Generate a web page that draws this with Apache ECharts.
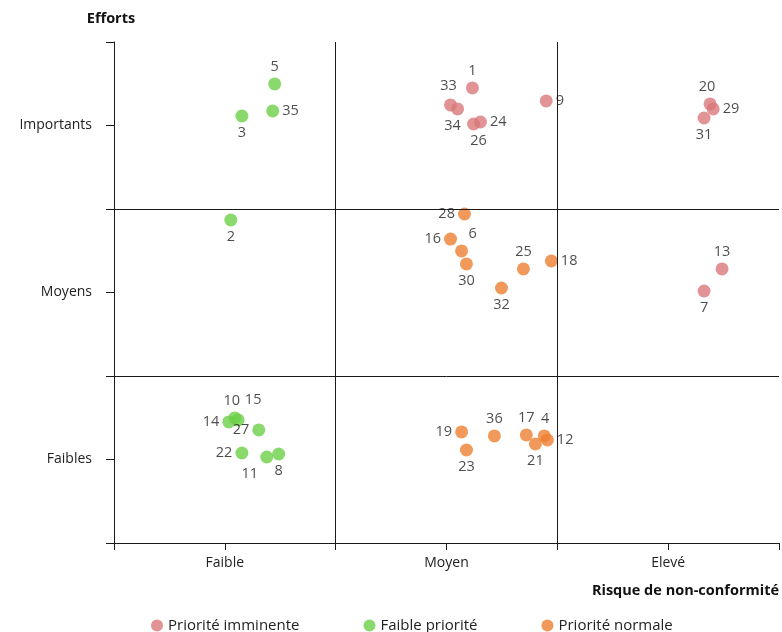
<!DOCTYPE html>
<html><head><meta charset="utf-8">
<script src="https://cdn.jsdelivr.net/npm/echarts@6/dist/echarts.min.js"></script>
<style>html,body{margin:0;padding:0;background:#fff}#c{width:782px;height:632px}</style>
</head><body><div id="c"></div>
<script>
// ---- data ----
const xTickLabels = ['Faible', 'Moyen', 'Elevé'];          // at 0.5, 1.5, 2.5
const yTickLabels = ['Faibles', 'Moyens', 'Importants'];   // at 0.5, 1.5, 2.5
const xAxisTitle = 'Risque de non-conformité';
const yAxisTitle = 'Efforts';
const quadrantBounds = [1, 2];
const seriesNames = ['Priorité imminente', 'Faible priorité', 'Priorité normale'];

const imminenteIds = [1, 33, 34, 26, 24, 9, 20, 29, 31, 13, 7];
const imminenteX   = [1.617, 1.518, 1.550, 1.622, 1.653, 1.950, 2.689, 2.703, 2.662, 2.743, 2.662];
const imminenteY   = [2.725, 2.623, 2.599, 2.509, 2.521, 2.647, 2.629, 2.599, 2.545, 1.641, 1.509];

const faibleIds = [5, 35, 3, 2, 10, 14, 15, 27, 22, 11, 8];
const faibleX   = [0.725, 0.716, 0.577, 0.527, 0.545, 0.518, 0.560, 0.653, 0.577, 0.689, 0.743];
const faibleY   = [2.749, 2.587, 2.557, 1.934, 0.749, 0.725, 0.737, 0.677, 0.539, 0.515, 0.533];

const normaleIds = [28, 16, 6, 30, 25, 18, 32, 19, 23, 36, 17, 4, 21, 12];
const normaleX   = [1.581, 1.518, 1.568, 1.590, 1.847, 1.973, 1.748, 1.568, 1.590, 1.716, 1.860, 1.941, 1.901, 1.955];
const normaleY   = [1.970, 1.820, 1.749, 1.671, 1.641, 1.689, 1.527, 0.665, 0.557, 0.641, 0.647, 0.641, 0.593, 0.617];

// ---- label placement (style) ----
const labelPlace = {
  1:['top'], 33:['top',[-2,-2]], 34:['bottom',[-5,0]], 26:['bottom',[5,0]], 24:['right'], 9:['right'],
  20:['top',[-3,0]], 29:['right'], 31:['bottom'], 13:['top'], 7:['bottom'],
  5:['top'], 35:['right'], 3:['bottom'], 2:['bottom'], 10:['top',[-3,0]], 14:['left'],
  15:['top',[15,-3]], 27:['left'], 22:['left'], 11:['bottom',[-17,0]], 8:['bottom'],
  28:['left'], 16:['left'], 6:['top',[11,0]], 30:['bottom'], 25:['top'], 18:['right'], 32:['bottom'],
  19:['left'], 23:['bottom'], 36:['top'], 17:['top'], 4:['top',[1,0]], 21:['bottom'], 12:['right']
};

const colors = ['#D9787A', '#6DCF48', '#EE8032'];
const FONT = 'Open Sans';

function buildPoints(ids, xs, ys) {
  return ids.map((id, i) => {
    const lp = labelPlace[id] || ['top'];
    const lab = { position: lp[0] };
    if (lp[1]) lab.offset = lp[1];
    return { value: [xs[i], ys[i]], name: String(id), label: lab };
  });
}

function tickFormatter(labels) {
  return function (v) {
    const idx = Math.round(v - 0.5);
    if (Math.abs(v - 0.5 - idx) < 1e-6 && idx >= 0 && idx < labels.length) return labels[idx];
    return '';
  };
}

const lineColor = '#1a1a1a';

const baseSeries = {
  type: 'scatter',
  symbolSize: 13,
  label: {
    show: true,
    formatter: p => p.name,
    color: '#1e1e1e',
    fontFamily: FONT,
    fontSize: 14.5,
    distance: 3
  },
  emphasis: { disabled: true }
};

const chart = echarts.init(document.getElementById('c'), null, { renderer: 'canvas' });
chart.setOption({
  animation: false,
  color: colors,
  textStyle: { fontFamily: FONT },
  grid: { left: 114, top: 42, right: 2, bottom: 89, containLabel: false },
  xAxis: {
    type: 'value', min: 0, max: 3, interval: 0.5,
    name: xAxisTitle, nameLocation: 'end', nameGap: 0,
    nameTextStyle: { align: 'right', verticalAlign: 'top', padding: [40, 0, 0, 0], fontWeight: 'bold', fontSize: 14.5, color: '#111', fontFamily: FONT },
    axisLine: { show: true, lineStyle: { color: lineColor, width: 1 } },
    axisTick: { show: true, length: 7, lineStyle: { color: lineColor } },
    axisLabel: { formatter: tickFormatter(xTickLabels), color: '#222', fontSize: 14, margin: 13, fontFamily: FONT },
    splitLine: { show: false }
  },
  yAxis: {
    type: 'value', min: 0, max: 3, interval: 0.5,
    name: yAxisTitle, nameLocation: 'end', nameGap: 16,
    nameTextStyle: { fontWeight: 'bold', fontSize: 14.5, color: '#111', align: 'center', padding: [0, 6, 0, 0], fontFamily: FONT },
    axisLine: { show: true, lineStyle: { color: lineColor, width: 1 } },
    axisTick: { show: true, length: 8, lineStyle: { color: lineColor } },
    axisLabel: { formatter: tickFormatter(yTickLabels), color: '#222', fontSize: 14, margin: 22, fontFamily: FONT },
    splitLine: { show: false }
  },
  legend: {
    bottom: -6, left: 146,
    icon: 'circle', itemWidth: 12, itemHeight: 12, itemGap: 64,
    textStyle: { color: '#222', fontSize: 15, fontFamily: FONT },
    data: seriesNames
  },
  series: [
    Object.assign({}, baseSeries, {
      name: seriesNames[0], data: buildPoints(imminenteIds, imminenteX, imminenteY),
      markLine: {
        silent: true, symbol: 'none', animation: false,
        label: { show: false },
        lineStyle: { color: lineColor, width: 1, type: 'solid' },
        data: quadrantBounds.map(v => ({ xAxis: v })).concat(quadrantBounds.map(v => ({ yAxis: v })))
      }
    }),
    Object.assign({}, baseSeries, { name: seriesNames[1], data: buildPoints(faibleIds, faibleX, faibleY) }),
    Object.assign({}, baseSeries, { name: seriesNames[2], data: buildPoints(normaleIds, normaleX, normaleY) })
  ]
});
</script>
</body></html>
